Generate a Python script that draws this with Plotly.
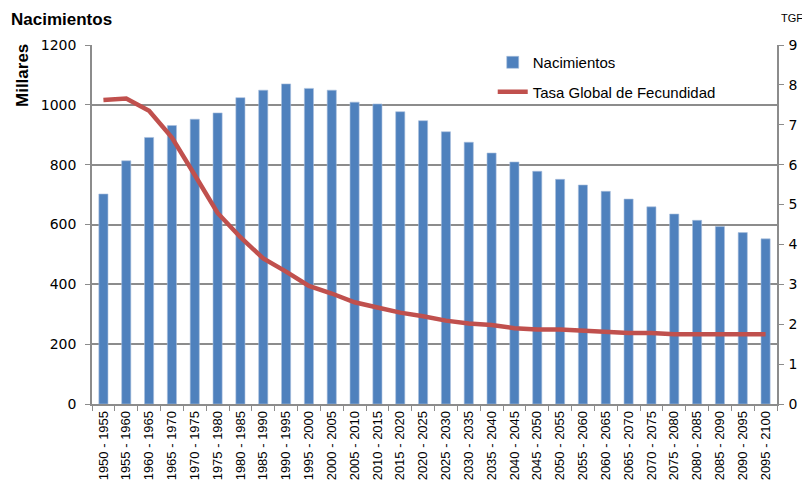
import plotly.graph_objects as go

periods = [f"{y} - {y + 5}" for y in range(1950, 2100, 5)]

nacimientos = [702, 813, 891, 931, 952, 973, 1024, 1049, 1070, 1055,
               1049, 1009, 1003, 977, 947, 910, 875, 839, 809, 778,
               751, 732, 711, 685, 659, 635, 614, 593, 573, 552]

tgf = [7.62, 7.66, 7.35, 6.68, 5.74, 4.79, 4.18, 3.65, 3.32, 2.96,
       2.77, 2.55, 2.42, 2.29, 2.20, 2.09, 2.02, 1.98, 1.90, 1.87,
       1.87, 1.84, 1.80, 1.78, 1.78, 1.75, 1.75, 1.75, 1.75, 1.75]

left_ticks = [0, 200, 400, 600, 800, 1000, 1200]
right_ticks = list(range(0, 10))

grid_color = "#8c8c8c"
font_name = "Liberation Sans"
tick_font = "DejaVu Sans"

W, H = 802, 487
ML, MR, MT, MB = 92, 25, 45, 83


def px_to_paper(xp, yp):
    """pixel position in the figure -> paper coordinates"""
    return (xp - ML) / (W - ML - MR), (H - MB - yp) / (H - MT - MB)


fig = go.Figure()

fig.add_trace(go.Bar(
    x=periods, y=nacimientos, name="Nacimientos",
    marker=dict(color="#4F81BD", line=dict(color="#a9c0de", width=0.6)),
    legendgroup="a",
))

fig.add_trace(go.Scatter(
    x=periods, y=tgf, name="Tasa Global de Fecundidad", yaxis="y2",
    mode="lines", line=dict(color="#C0504D", width=4.5),
    legendgroup="b",
))

tx, ty = px_to_paper(9, 20)
mx, my = px_to_paper(22, 76)
gx, gy = px_to_paper(792, 18)

fig.update_layout(
    template="none",
    width=W, height=H,
    margin=dict(l=ML, r=MR, t=MT, b=MB),
    paper_bgcolor="white", plot_bgcolor="white",
    font=dict(family=font_name, color="#000000"),
    bargap=0.6,
    showlegend=True,
    legend=dict(
        x=0.585, y=0.997, xanchor="left", yanchor="top",
        font=dict(size=15, family=font_name),
        bgcolor="rgba(0,0,0,0)", traceorder="grouped", tracegroupgap=7,
    ),
    xaxis=dict(
        type="category", tickangle=-90, tickfont=dict(size=13),
        showline=True, linecolor=grid_color, linewidth=1.5,
        ticks="outside", tickson="boundaries", ticklen=5,
        tickcolor=grid_color, showgrid=False, automargin=False,
    ),
    yaxis=dict(
        range=[0, 1200], tickvals=left_ticks,
        tickfont=dict(size=14, family=tick_font), ticklabelstandoff=6,
        showline=True, linecolor=grid_color, linewidth=1.5,
        ticks="outside", ticklen=5, tickcolor=grid_color,
        showgrid=True, gridcolor=grid_color, gridwidth=1.5,
        zeroline=False, automargin=False,
    ),
    yaxis2=dict(
        range=[0, 9], tickvals=right_ticks,
        tickfont=dict(size=14, family=tick_font), ticklabelstandoff=2,
        overlaying="y", side="right",
        showline=True, linecolor=grid_color, linewidth=1.5,
        ticks="outside", ticklen=5, tickcolor=grid_color,
        showgrid=False, zeroline=False, automargin=False,
    ),
    annotations=[
        dict(text="<b>Nacimientos</b>", x=tx, y=ty, xref="paper", yref="paper",
             xanchor="left", yanchor="middle", showarrow=False,
             font=dict(size=17)),
        dict(text="<b>Millares</b>", textangle=-90, x=mx, y=my,
             xref="paper", yref="paper", xanchor="center", yanchor="middle",
             showarrow=False, font=dict(size=17)),
        dict(text="TGF", x=gx, y=gy, xref="paper", yref="paper",
             xanchor="center", yanchor="middle", showarrow=False,
             font=dict(size=11)),
    ],
)

fig.write_html("out.html", config={"displayModeBar": False},
               post_script="document.body.style.margin='0px';")
